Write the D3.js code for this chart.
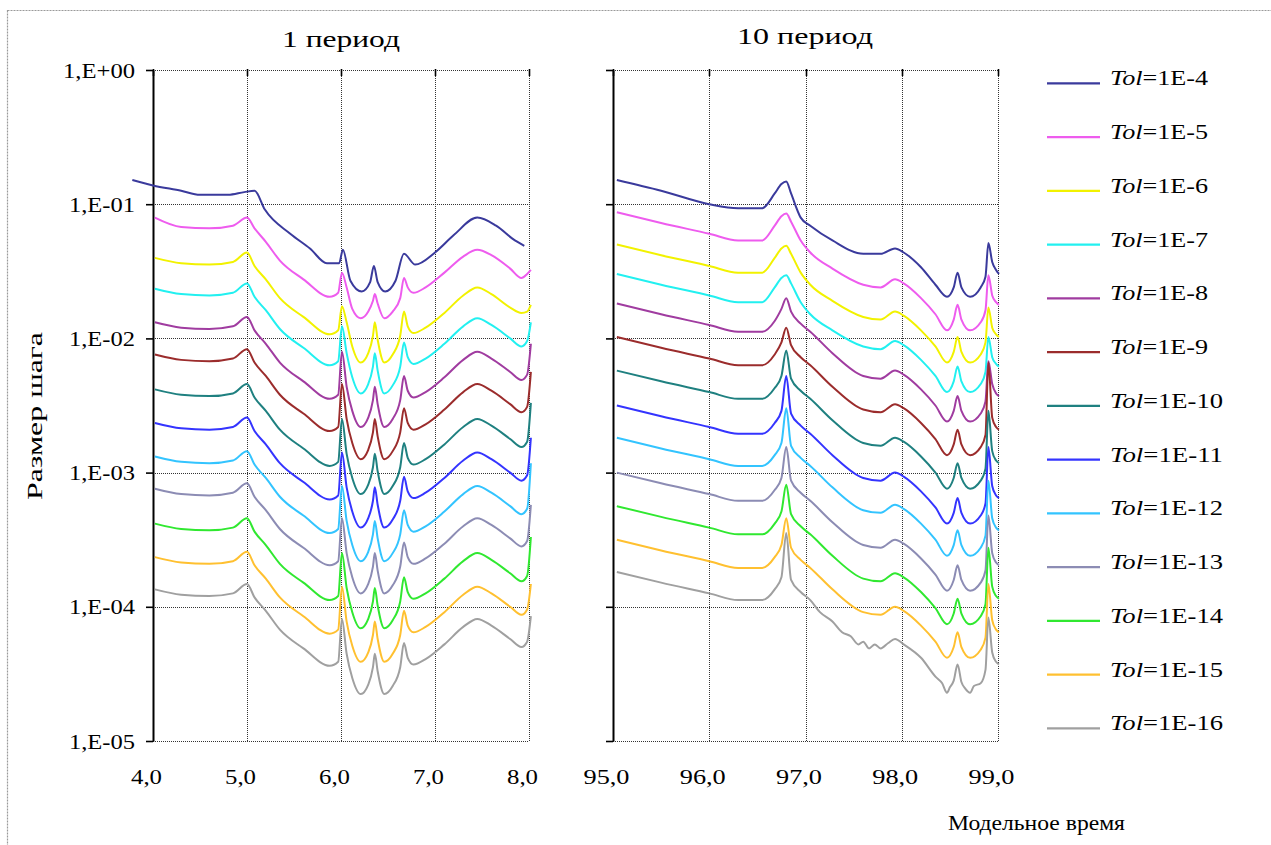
<!DOCTYPE html>
<html><head><meta charset="utf-8">
<script src="https://cdn.jsdelivr.net/npm/d3@7"></script>
<style>
body{margin:0;background:#fff}
svg{display:block}
text{font-family:"Liberation Serif","Times New Roman",serif;fill:#000}
</style>
</head><body>
<svg id="chart" width="1271" height="845"></svg>
<script>
// ---------- DATA (log10 of step size) ----------
const tolLabels = ["1E-4","1E-5","1E-6","1E-7","1E-8","1E-9","1E-10","1E-11","1E-12","1E-13","1E-14","1E-15","1E-16"];
const yTickValues = [1, 1e-1, 1e-2, 1e-3, 1e-4, 1e-5];
const yTickLabels = ["1,E+00","1,E-01","1,E-02","1,E-03","1,E-04","1,E-05"];
const xTicksLeft = [4, 5, 6, 7, 8];
const xTickLabelsLeft = ["4,0","5,0","6,0","7,0","8,0"];
const xTicksRight = [95, 96, 97, 98, 99];
const xTickLabelsRight = ["95,0","96,0","97,0","98,0","99,0"];

// period 1 (left panel)
const timeLeftTol4 = [3.78,4.0,4.3,4.5,4.8,4.97,5.08,5.19,5.46,5.67,5.85,5.98,6.02,6.1,6.22,6.31,6.35,6.39,6.47,6.58,6.67,6.79,7.0,7.2,7.45,7.65,7.85,7.95];
const left_1E4 = [-0.82,-0.86,-0.90,-0.93,-0.93,-0.91,-0.90,-1.04,-1.22,-1.33,-1.44,-1.44,-1.34,-1.57,-1.65,-1.58,-1.46,-1.58,-1.65,-1.57,-1.37,-1.45,-1.36,-1.23,-1.10,-1.16,-1.27,-1.31];
const timeLeft = [4.02,4.3,4.6,4.85,5.0,5.08,5.2,5.35,5.6,5.88,5.97,6.01,6.06,6.12,6.21,6.29,6.34,6.36,6.39,6.46,6.55,6.63,6.67,6.71,6.77,6.9,7.1,7.3,7.45,7.6,7.8,7.92,7.98,8.02];
const left_1E5 = [-1.10,-1.17,-1.18,-1.16,-1.10,-1.18,-1.28,-1.42,-1.56,-1.69,-1.66,-1.51,-1.62,-1.78,-1.85,-1.80,-1.72,-1.67,-1.74,-1.85,-1.80,-1.70,-1.55,-1.62,-1.66,-1.62,-1.51,-1.39,-1.34,-1.38,-1.48,-1.55,-1.52,-1.49];
const left_1E6 = [-1.40,-1.44,-1.45,-1.43,-1.36,-1.46,-1.56,-1.70,-1.84,-1.97,-1.94,-1.76,-1.88,-2.06,-2.18,-2.11,-1.98,-1.88,-2.01,-2.18,-2.12,-1.98,-1.80,-1.91,-1.96,-1.92,-1.81,-1.68,-1.62,-1.67,-1.77,-1.81,-1.80,-1.75];
const left_1E7 = [-1.63,-1.67,-1.68,-1.66,-1.59,-1.69,-1.79,-1.93,-2.07,-2.20,-2.17,-1.91,-2.11,-2.29,-2.41,-2.34,-2.21,-2.11,-2.24,-2.41,-2.35,-2.21,-2.03,-2.14,-2.19,-2.15,-2.04,-1.91,-1.85,-1.90,-2.00,-2.06,-2.02,-1.88];
const left_1E8 = [-1.88,-1.92,-1.93,-1.91,-1.84,-1.94,-2.04,-2.18,-2.32,-2.45,-2.42,-2.10,-2.36,-2.54,-2.66,-2.59,-2.46,-2.36,-2.49,-2.66,-2.60,-2.46,-2.28,-2.39,-2.44,-2.40,-2.29,-2.16,-2.10,-2.15,-2.25,-2.31,-2.27,-2.04];
const left_1E9 = [-2.12,-2.16,-2.17,-2.15,-2.08,-2.18,-2.28,-2.42,-2.56,-2.69,-2.66,-2.34,-2.60,-2.78,-2.90,-2.83,-2.70,-2.60,-2.73,-2.90,-2.84,-2.70,-2.52,-2.63,-2.68,-2.64,-2.53,-2.40,-2.34,-2.39,-2.49,-2.55,-2.51,-2.25];
const left_1E10 = [-2.38,-2.42,-2.43,-2.41,-2.34,-2.44,-2.54,-2.68,-2.82,-2.95,-2.92,-2.60,-2.86,-3.04,-3.16,-3.09,-2.96,-2.86,-2.99,-3.16,-3.10,-2.96,-2.78,-2.89,-2.94,-2.90,-2.79,-2.66,-2.60,-2.65,-2.75,-2.81,-2.77,-2.48];
const left_1E11 = [-2.63,-2.67,-2.68,-2.66,-2.59,-2.69,-2.79,-2.93,-3.07,-3.20,-3.17,-2.85,-3.11,-3.29,-3.41,-3.34,-3.21,-3.11,-3.24,-3.41,-3.35,-3.21,-3.03,-3.14,-3.19,-3.15,-3.04,-2.91,-2.85,-2.90,-3.00,-3.06,-3.02,-2.74];
const left_1E12 = [-2.88,-2.92,-2.93,-2.91,-2.84,-2.94,-3.04,-3.18,-3.32,-3.45,-3.42,-3.10,-3.36,-3.54,-3.66,-3.59,-3.46,-3.36,-3.49,-3.66,-3.60,-3.46,-3.28,-3.39,-3.44,-3.40,-3.29,-3.16,-3.10,-3.15,-3.25,-3.31,-3.27,-2.93];
const left_1E13 = [-3.12,-3.16,-3.17,-3.15,-3.08,-3.18,-3.28,-3.42,-3.56,-3.69,-3.66,-3.34,-3.60,-3.78,-3.90,-3.83,-3.70,-3.60,-3.73,-3.90,-3.84,-3.70,-3.52,-3.63,-3.68,-3.64,-3.53,-3.40,-3.34,-3.39,-3.49,-3.55,-3.51,-3.24];
const left_1E14 = [-3.38,-3.42,-3.43,-3.41,-3.34,-3.44,-3.54,-3.68,-3.82,-3.95,-3.92,-3.60,-3.86,-4.04,-4.16,-4.09,-3.96,-3.86,-3.99,-4.16,-4.10,-3.96,-3.78,-3.89,-3.94,-3.90,-3.79,-3.66,-3.60,-3.65,-3.75,-3.81,-3.77,-3.48];
const left_1E15 = [-3.63,-3.67,-3.68,-3.66,-3.59,-3.69,-3.79,-3.93,-4.07,-4.20,-4.17,-3.85,-4.11,-4.29,-4.41,-4.34,-4.21,-4.11,-4.24,-4.41,-4.35,-4.21,-4.03,-4.14,-4.19,-4.15,-4.04,-3.91,-3.85,-3.90,-4.00,-4.06,-4.02,-3.83];
const left_1E16 = [-3.87,-3.91,-3.92,-3.90,-3.83,-3.93,-4.03,-4.17,-4.31,-4.44,-4.41,-4.09,-4.35,-4.53,-4.65,-4.58,-4.45,-4.35,-4.48,-4.65,-4.59,-4.45,-4.27,-4.38,-4.43,-4.39,-4.28,-4.15,-4.09,-4.14,-4.24,-4.30,-4.26,-4.07];

// period 10 (right panel)
const timeRight = [95.04,95.5,96.0,96.3,96.55,96.68,96.75,96.8,96.85,96.95,97.05,97.28,97.6,97.78,97.93,98.02,98.2,98.35,98.47,98.54,98.58,98.62,98.71,98.82,98.87,98.9,98.94,98.98,99.01];
const right_1E4 = [-0.82,-0.90,-1.00,-1.03,-1.03,-0.92,-0.85,-0.83,-0.92,-1.10,-1.16,-1.27,-1.37,-1.37,-1.33,-1.36,-1.47,-1.60,-1.69,-1.62,-1.51,-1.62,-1.69,-1.62,-1.54,-1.29,-1.43,-1.49,-1.52];
const right_1E5 = [-1.06,-1.14,-1.22,-1.27,-1.27,-1.16,-1.09,-1.07,-1.13,-1.27,-1.36,-1.48,-1.60,-1.62,-1.56,-1.59,-1.70,-1.82,-1.94,-1.86,-1.75,-1.86,-1.94,-1.88,-1.79,-1.53,-1.68,-1.73,-1.75];
const right_1E6 = [-1.30,-1.38,-1.46,-1.51,-1.51,-1.40,-1.33,-1.31,-1.37,-1.51,-1.60,-1.72,-1.84,-1.86,-1.80,-1.83,-1.94,-2.06,-2.18,-2.10,-1.99,-2.10,-2.18,-2.12,-2.03,-1.77,-1.92,-1.97,-1.99];
const right_1E7 = [-1.52,-1.60,-1.68,-1.73,-1.73,-1.62,-1.55,-1.53,-1.59,-1.73,-1.82,-1.94,-2.06,-2.08,-2.02,-2.05,-2.16,-2.28,-2.40,-2.32,-2.21,-2.32,-2.40,-2.34,-2.25,-1.99,-2.14,-2.19,-2.21];
const right_1E8 = [-1.74,-1.82,-1.90,-1.95,-1.95,-1.87,-1.78,-1.70,-1.80,-1.89,-1.95,-2.11,-2.28,-2.30,-2.24,-2.27,-2.38,-2.50,-2.62,-2.54,-2.43,-2.54,-2.62,-2.56,-2.47,-2.17,-2.34,-2.41,-2.43];
const right_1E9 = [-1.99,-2.07,-2.15,-2.20,-2.20,-2.12,-2.03,-1.92,-2.05,-2.14,-2.20,-2.36,-2.53,-2.55,-2.49,-2.52,-2.63,-2.75,-2.87,-2.79,-2.68,-2.79,-2.87,-2.81,-2.72,-2.18,-2.59,-2.66,-2.68];
const right_1E10 = [-2.24,-2.32,-2.40,-2.45,-2.45,-2.37,-2.28,-2.09,-2.30,-2.39,-2.45,-2.61,-2.78,-2.80,-2.74,-2.77,-2.88,-3.00,-3.12,-3.04,-2.93,-3.04,-3.12,-3.06,-2.97,-2.54,-2.84,-2.91,-2.93];
const right_1E11 = [-2.50,-2.58,-2.66,-2.71,-2.71,-2.63,-2.54,-2.28,-2.56,-2.65,-2.71,-2.87,-3.04,-3.06,-3.00,-3.03,-3.14,-3.26,-3.38,-3.30,-3.19,-3.30,-3.38,-3.32,-3.23,-2.81,-3.10,-3.17,-3.19];
const right_1E12 = [-2.74,-2.82,-2.90,-2.95,-2.95,-2.87,-2.78,-2.52,-2.80,-2.89,-2.95,-3.11,-3.28,-3.30,-3.24,-3.27,-3.38,-3.50,-3.62,-3.54,-3.43,-3.54,-3.62,-3.56,-3.47,-3.06,-3.34,-3.41,-3.43];
const right_1E13 = [-3.00,-3.08,-3.16,-3.21,-3.21,-3.13,-3.04,-2.81,-3.06,-3.15,-3.21,-3.37,-3.54,-3.56,-3.50,-3.53,-3.64,-3.76,-3.88,-3.80,-3.69,-3.80,-3.88,-3.82,-3.73,-3.32,-3.60,-3.67,-3.69];
const right_1E14 = [-3.25,-3.33,-3.41,-3.46,-3.46,-3.38,-3.29,-3.09,-3.31,-3.40,-3.46,-3.62,-3.79,-3.81,-3.75,-3.78,-3.89,-4.01,-4.13,-4.05,-3.94,-4.05,-4.13,-4.07,-3.98,-3.56,-3.85,-3.92,-3.94];
const right_1E15 = [-3.50,-3.58,-3.66,-3.71,-3.71,-3.63,-3.54,-3.34,-3.56,-3.65,-3.71,-3.87,-4.04,-4.06,-4.00,-4.03,-4.14,-4.26,-4.38,-4.30,-4.19,-4.30,-4.38,-4.32,-4.23,-3.83,-4.10,-4.17,-4.19];
const timeRight16 = [95.04,95.5,96.0,96.3,96.55,96.68,96.75,96.8,96.85,96.95,97.05,97.15,97.28,97.38,97.47,97.55,97.6,97.66,97.72,97.78,97.86,97.93,98.02,98.2,98.35,98.42,98.47,98.5,98.54,98.58,98.62,98.66,98.71,98.75,98.82,98.87,98.9,98.94,98.98,99.01];
const right_1E16 = [-3.74,-3.82,-3.90,-3.95,-3.95,-3.87,-3.78,-3.45,-3.80,-3.89,-3.95,-4.04,-4.11,-4.19,-4.22,-4.28,-4.26,-4.31,-4.28,-4.31,-4.27,-4.24,-4.28,-4.38,-4.52,-4.57,-4.64,-4.60,-4.55,-4.43,-4.56,-4.61,-4.64,-4.59,-4.57,-4.47,-4.08,-4.34,-4.41,-4.43];

// ---------- STYLE ----------
const tolColors = ["#3a3a9c","#ee5cee","#f2f200","#22f0f0","#a03ca0","#9b2c2c","#1f8080","#3434ff","#33c4ff","#8c8cb4","#30e830","#ffc030","#a0a0a0"];

const leftSeries = [[timeLeftTol4,left_1E4],[timeLeft,left_1E5],[timeLeft,left_1E6],[timeLeft,left_1E7],[timeLeft,left_1E8],[timeLeft,left_1E9],[timeLeft,left_1E10],[timeLeft,left_1E11],[timeLeft,left_1E12],[timeLeft,left_1E13],[timeLeft,left_1E14],[timeLeft,left_1E15],[timeLeft,left_1E16]];
const rightSeries = [[timeRight,right_1E4],[timeRight,right_1E5],[timeRight,right_1E6],[timeRight,right_1E7],[timeRight,right_1E8],[timeRight,right_1E9],[timeRight,right_1E10],[timeRight,right_1E11],[timeRight,right_1E12],[timeRight,right_1E13],[timeRight,right_1E14],[timeRight,right_1E15],[timeRight16,right_1E16]];

const svg = d3.select("#chart");
svg.append("rect").attr("x",7.5).attr("y",10.5).attr("width",1275).attr("height",850)
  .attr("fill","none").attr("stroke","#9a9a9a").attr("stroke-width",1.2).attr("stroke-dasharray","2,1");

const y = d3.scaleLog().domain([1e-5,1]).range([741,70]);
const xL = d3.scaleLinear().domain([4,8]).range([153,529]);
const xR = d3.scaleLinear().domain([95,99]).range([613,998]);
const px = v => Math.round(v) + 0.5;

function panel(x, xTicks, xLabels, showYLabels, series, labelWidth){
  const g = svg.append("g");
  const [x0,x1] = x.range();
  // horizontal grid
  g.selectAll(".hg").data(yTickValues).join("line")
    .attr("x1",x0).attr("x2",x1).attr("y1",d=>px(y(d))).attr("y2",d=>px(y(d)))
    .attr("stroke","#333").attr("stroke-width",1).attr("stroke-dasharray","1,1");
  // vertical grid
  g.selectAll(".vg").data(xTicks).join("line")
    .attr("x1",d=>px(x(d))).attr("x2",d=>px(x(d))).attr("y1",70).attr("y2",741)
    .attr("stroke","#333").attr("stroke-width",1).attr("stroke-dasharray","1,1");
  // top tick marks
  g.selectAll(".tt").data(xTicks).join("line")
    .attr("x1",d=>px(x(d))).attr("x2",d=>px(x(d))).attr("y1",69).attr("y2",76)
    .attr("stroke","#000").attr("stroke-width",1.6);
  // y axis
  const ax = g.append("g").attr("transform",`translate(${x0},0)`)
    .call(d3.axisLeft(y).tickValues(yTickValues).tickSizeInner(7).tickSizeOuter(0).tickPadding(17)
      .tickFormat((d,i)=> showYLabels ? yTickLabels[i] : ""));
  ax.select(".domain").attr("stroke","#000").attr("stroke-width",2);
  ax.selectAll(".tick line").attr("stroke","#000").attr("stroke-width",1.6);
  ax.selectAll(".tick text").attr("font-size",21).attr("fill","#000")
    .attr("dy","0.34em").attr("x",-18)
    .attr("textLength",(d,i)=> i===0 ? 72 : 66).attr("lengthAdjust","spacingAndGlyphs");
  // x labels
  const bx = g.append("g").attr("transform","translate(0,741)")
    .call(d3.axisBottom(x).tickValues(xTicks).tickSize(0).tickFormat((d,i)=>xLabels[i]));
  bx.select(".domain").remove();
  bx.selectAll(".tick text").attr("font-size",21).attr("fill","#000")
    .attr("y",43).attr("dy",0).attr("x",-7)
    .attr("textLength",labelWidth).attr("lengthAdjust","spacingAndGlyphs");
  // lines
  const line = d3.line().x(d=>x(d[0])).y(d=>y(Math.pow(10,d[1]))).curve(d3.curveMonotoneX);
  series.forEach((s,i)=>{
    const pts = s[0].map((t,k)=>[t,s[1][k]]).filter(p=>p[1]!==undefined);
    g.append("path").datum(pts).attr("d",line).attr("fill","none")
      .attr("stroke",tolColors[i]).attr("stroke-width",2).attr("stroke-linejoin","round");
  });
}
panel(xL, xTicksLeft, xTickLabelsLeft, true, leftSeries, 31);
panel(xR, xTicksRight, xTickLabelsRight, false, rightSeries, 46);

// titles
svg.append("text").attr("x",282).attr("y",47).attr("font-size",23).attr("textLength",118).attr("lengthAdjust","spacingAndGlyphs").text("1 период");
svg.append("text").attr("x",737).attr("y",44).attr("font-size",23).attr("textLength",136).attr("lengthAdjust","spacingAndGlyphs").text("10 период");
// axis titles
svg.append("text").attr("transform","translate(42,416) rotate(-90)").attr("text-anchor","middle")
  .attr("font-size",21).attr("textLength",168).attr("lengthAdjust","spacingAndGlyphs").text("Размер шага");
svg.append("text").attr("x",948).attr("y",830).attr("font-size",20).attr("textLength",177).attr("lengthAdjust","spacingAndGlyphs").text("Модельное время");

// legend
const leg = svg.append("g");
tolLabels.forEach((lab,i)=>{
  const ly = 83.3 + 53.75*i;
  leg.append("line").attr("x1",1047).attr("x2",1100).attr("y1",ly).attr("y2",ly)
    .attr("stroke",tolColors[i]).attr("stroke-width",2.2);
  const t = leg.append("text").attr("x",1110).attr("y",ly+2).attr("font-size",21)
    .attr("textLength", lab.length>4 ? 113 : 98).attr("lengthAdjust","spacingAndGlyphs");
  t.append("tspan").attr("font-style","italic").text("Tol");
  t.append("tspan").text("=" + lab);
});
</script>
</body></html>
